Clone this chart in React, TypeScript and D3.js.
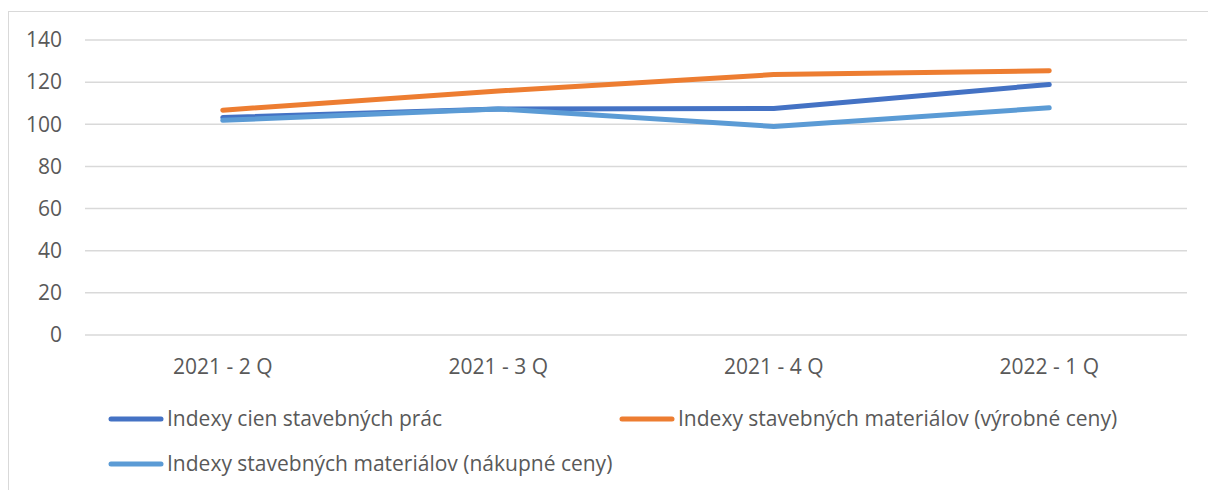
import React, { useEffect, useRef } from "react";
import * as d3 from "d3";

const categories = ["2021 - 2 Q", "2021 - 3 Q", "2021 - 4 Q", "2022 - 1 Q"];
const seriesNames = [
  "Indexy cien stavebných prác",
  "Indexy stavebných materiálov (výrobné ceny)",
  "Indexy stavebných materiálov (nákupné ceny)",
];
const praceValues = [103.2, 107.3, 107.5, 118.9];
const vyrobneValues = [106.7, 115.8, 123.6, 125.4];
const nakupneValues = [101.9, 107.3, 99.0, 107.8];
const yTicks = [0, 20, 40, 60, 80, 100, 120, 140];
const colors = ["#4472C4", "#ED7D31", "#5B9BD5"];

const FONT = "'Open Sans', sans-serif";
const FS = 21;

function App() {
  const ref = useRef<SVGSVGElement>(null);

  useEffect(() => {
    const svg = d3.select(ref.current);
    svg.selectAll("*").remove();

    const series = [praceValues, vyrobneValues, nakupneValues];

    // chart frame
    svg
      .append("rect")
      .attr("x", 8.5)
      .attr("y", 11.5)
      .attr("width", 1210)
      .attr("height", 490)
      .attr("fill", "#fff")
      .attr("stroke", "#d9d9d9");

    const x = d3.scaleBand().domain(categories).range([85, 1187]);
    const y = d3.scaleLinear().domain([0, 140]).range([335, 40]);

    svg
      .append("g")
      .selectAll("line")
      .data(yTicks)
      .enter()
      .append("line")
      .attr("x1", 85)
      .attr("x2", 1187)
      .attr("y1", (d) => y(d))
      .attr("y2", (d) => y(d))
      .attr("stroke", "#d9d9d9")
      .attr("stroke-width", 1.5);

    svg
      .append("g")
      .selectAll("text")
      .data(yTicks)
      .enter()
      .append("text")
      .attr("x", 62)
      .attr("y", (d) => y(d))
      .attr("dy", "0.35em")
      .attr("text-anchor", "end")
      .attr("font-family", FONT)
      .attr("font-size", FS)
      .attr("fill", "#595959")
      .text((d) => d);

    svg
      .append("g")
      .selectAll("text")
      .data(categories)
      .enter()
      .append("text")
      .attr("x", (d) => x(d)! + x.bandwidth() / 2)
      .attr("y", 367)
      .attr("dy", "0.35em")
      .attr("text-anchor", "middle")
      .attr("font-family", FONT)
      .attr("font-size", FS)
      .attr("fill", "#595959")
      .text((d) => d);

    const line = d3
      .line<number>()
      .x((_, i) => x(categories[i])! + x.bandwidth() / 2)
      .y((d) => y(d));

    svg
      .append("g")
      .selectAll("path")
      .data(series)
      .enter()
      .append("path")
      .attr("d", (d) => line(d))
      .attr("fill", "none")
      .attr("stroke", (_, i) => colors[i])
      .attr("stroke-width", 5)
      .attr("stroke-linecap", "round")
      .attr("stroke-linejoin", "round");

    // legend
    const legendPos = [
      { x: 109, y: 419 },
      { x: 620, y: 419 },
      { x: 109, y: 464 },
    ];
    const legend = svg
      .append("g")
      .selectAll("g")
      .data(seriesNames)
      .enter()
      .append("g")
      .attr("transform", (_, i) => `translate(${legendPos[i].x},${legendPos[i].y})`);
    legend
      .append("line")
      .attr("x1", 2)
      .attr("x2", 52)
      .attr("stroke", (_, i) => colors[i])
      .attr("stroke-width", 5)
      .attr("stroke-linecap", "round");
    legend
      .append("text")
      .attr("x", 58)
      .attr("dy", "0.35em")
      .attr("font-family", FONT)
      .attr("font-size", FS)
      .attr("fill", "#595959")
      .text((d) => d);
  }, []);

  return (
    <svg
      ref={ref}
      width={1208}
      height={490}
      style={{ position: "absolute", left: 0, top: 0 }}
    />
  );
}

export default App;
